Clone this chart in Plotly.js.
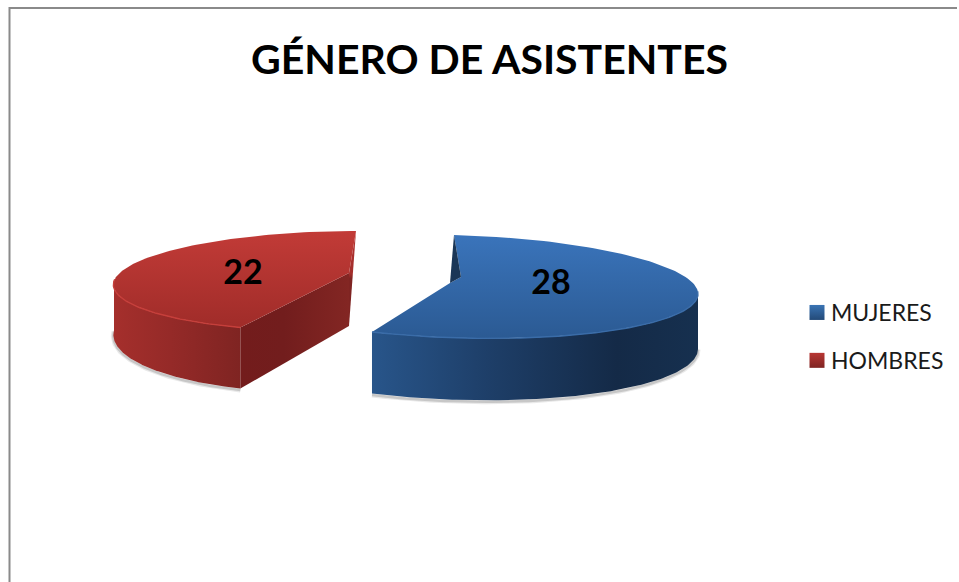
<!DOCTYPE html>
<html>
<head>
<meta charset="utf-8">
<script src="https://cdn.plot.ly/plotly-3.0.1.min.js"></script>
<style>html,body{margin:0;padding:0;background:#fff;overflow:hidden}#chart{width:959px;height:582px}</style>
</head>
<body>
<div id="chart"></div>
<script>
// Data
var categories = ["MUJERES", "HOMBRES"];
var values = [28, 22];
var chartTitle = "GÉNERO DE ASISTENTES";

// Projection of each exploded slice on the page (tilted 3D pie)
var blueGeom = {cx:457.4, cy:286.5, rx:240.6, ry:51.5, skewX:-3.4, skewY:6.5, apex:[461,277], neck:[450,283], wallBase:55, wallFront:7};
var redGeom  = {cx:339, cy:281, rx:225, ry:50, skewX:17, skewY:0, apex:[349,273], neck:null, wallBase:49, wallFront:13};

var total = values.reduce(function(a,b){return a+b;},0);
var splitDeg = 360 * values[0] / total;

function pt(g, deg){
  var t = deg*Math.PI/180, s = Math.sin(t), c = Math.cos(t);
  return [g.cx + g.rx*s + g.skewX*c, g.cy - g.ry*c + g.skewY*s];
}
function wallH(g, deg){ return g.wallBase - g.wallFront*Math.cos(deg*Math.PI/180); }
function arc(g, a, b, drop){
  var out = [], n = 120;
  for (var i=0;i<=n;i++){
    var d = a+(b-a)*i/n, p = pt(g,d);
    out.push([p[0], p[1] + (drop ? wallH(g,d) : 0)]);
  }
  return out;
}
function poly(points, opts){
  var t = {type:'scatter', mode:'lines', x:points.map(function(p){return p[0];}), y:points.map(function(p){return p[1];}),
    hoverinfo:'skip', showlegend:false, line:{width:0}};
  for (var k in opts) t[k]=opts[k];
  return t;
}
function grad(kind, stops){ return {type:kind, colorscale:stops}; }

var traces = [];

// ---- soft shadows under the slices
[[blueGeom,90,splitDeg],[redGeom,splitDeg,270]].forEach(function(s){
  var bottom = arc(s[0],s[1],s[2],true).map(function(p){return [p[0],p[1]+1.5];});
  traces.push(poly(bottom,{line:{width:5,color:'rgba(120,120,120,0.16)'}}));
  traces.push(poly(bottom,{line:{width:2.5,color:'rgba(110,110,110,0.28)'}}));
});

// ---- HOMBRES (red)
var rStart = splitDeg, rEnd = 360;
var rTop = arc(redGeom, rStart, rEnd, false);
var rCut = pt(redGeom, rStart), rCorner = pt(redGeom, rEnd);
var rApex = redGeom.apex;
var rApexDrop = [rApex[0], rApex[1]+53];
// curved outer wall
traces.push(poly(arc(redGeom,rStart,270,false).concat(arc(redGeom,rStart,270,true).reverse()),{
  fill:'toself', fillcolor:'#8f2927',
  fillgradient:grad('horizontal',[[0,'#a52f2c'],[0.45,'#952a28'],[1,'#7f2422']])}));
// flat cut wall
traces.push(poly([rCut,rApex,rApexDrop,[rCut[0],rCut[1]+wallH(redGeom,rStart)]],{
  fill:'toself', fillcolor:'#7a2120',
  fillgradient:grad('horizontal',[[0,'#731c1c'],[0.4,'#721d1d'],[1,'#832623']])}));
// back sliver
traces.push(poly([rCorner,rApex,rApexDrop],{fill:'toself',fillcolor:'#8a2725',
  fillgradient:grad('vertical',[[0,'#7f2422'],[0.5,'#7f2422'],[0.55,'#a32e2c'],[1,'#b23331']])}));
// top face
traces.push(poly(rTop.concat([rApex,rTop[0]]),{
  fill:'toself', fillcolor:'#ab302d',
  fillgradient:grad('vertical',[[0,'#a02c29'],[1,'#c23b37']])}));
// rim highlight
traces.push(poly(arc(redGeom,rStart,272,false),{line:{width:1.4,color:'#c63f3b'}}));

// ---- MUJERES (blue)
var bStart = 0, bEnd = splitDeg;
var bTop = arc(blueGeom, bStart, bEnd, false);
var bCut = pt(blueGeom, bEnd), bCorner = pt(blueGeom, bStart);
traces.push(poly(arc(blueGeom,90,bEnd,false).concat(arc(blueGeom,90,bEnd,true).reverse()),{
  fill:'toself', fillcolor:'#1b3658',
  fillgradient:grad('horizontal',[[0,'#28558a'],[0.35,'#1e3f69'],[0.75,'#142a47'],[1,'#16304f']])}));
traces.push(poly(bTop.concat([blueGeom.neck,blueGeom.apex,bTop[0]]),{
  fill:'toself', fillcolor:'#2f629f',
  fillgradient:grad('vertical',[[0,'#2b5a93'],[1,'#3a74bb']])}));
traces.push(poly([bCorner,blueGeom.apex,blueGeom.neck],{fill:'toself',fillcolor:'#1a3657'}));
traces.push(poly(arc(blueGeom,88,bEnd,false),{line:{width:1.4,color:'#3a6ca8'}}));

// ---- value labels
var labelX = [551, 243];
var labelY = [285, 275];
traces.push({type:'scatter', mode:'text', x:labelX, y:labelY, text:values.map(String),
  textfont:{family:'Lato, sans-serif', size:34, color:'#000', weight:700}, hoverinfo:'skip', showlegend:false, textposition:'middle center', cliponaxis:false});

// ---- legend entries
var legendColors = ['#3a74b4','#b83633'];
var legendShade = ['#234a78','#7f2422'];
categories.forEach(function(name,i){
  traces.push({type:'scatter', mode:'markers', name:name, x:[-100], y:[-100], legendgroup:name,
    marker:{symbol:'square', size:15, color:legendColors[i], gradient:{type:'vertical', color:legendShade[i]}, line:{width:0}}, hoverinfo:'skip'});
});

var layout = {
  width:959, height:582, margin:{l:0,r:0,t:0,b:0},
  paper_bgcolor:'#fff', plot_bgcolor:'#fff',
  title:{text:chartTitle, x:489.5/959, xanchor:'center', y:1-60/582, yanchor:'middle',
    font:{family:'Lato, sans-serif', size:41, color:'#000', weight:700}},
  xaxis:{range:[0,959], visible:false, fixedrange:true},
  yaxis:{range:[582,0], visible:false, fixedrange:true},
  showlegend:true,
  legend:{x:791/959, y:1-291/582, xanchor:'left', yanchor:'top', tracegroupgap:15, bgcolor:'rgba(0,0,0,0)',
    font:{family:'Lato, sans-serif', size:23, color:'#1a1a1a'}},
  shapes:[
    {type:'line', xref:'paper', yref:'paper', x0:9.5/959, x1:9.5/959, y0:0, y1:1-7/582, line:{color:'#8a8a8a',width:2}},
    {type:'line', xref:'paper', yref:'paper', x0:9/959, x1:957/959, y0:1-8/582, y1:1-8/582, line:{color:'#8a8a8a',width:2}}
  ]
};
Plotly.newPlot('chart', traces, layout, {displayModeBar:false, staticPlot:true}).then(function(){
  // keep the legend swatches close to their labels, as in the reference
  document.querySelectorAll('.legendsymbols').forEach(function(g){ g.setAttribute('transform','translate(6,0)'); });
});
</script>
</body>
</html>
